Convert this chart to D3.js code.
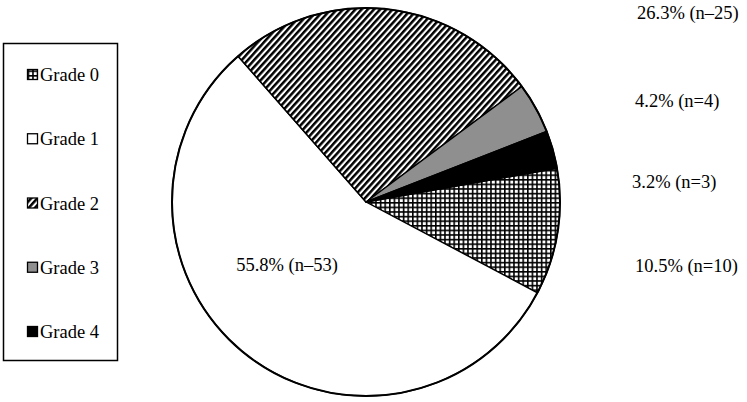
<!DOCTYPE html>
<html>
<head>
<meta charset="utf-8">
<script src="https://cdn.jsdelivr.net/npm/d3@7"></script>
<style>
  body { margin: 0; background: #fff; }
  svg { display: block; font-family: "Liberation Serif", "Times New Roman", serif; }
</style>
</head>
<body>
<svg id="chart" width="747" height="402"></svg>
<script>
// data
var grades = ["Grade 0", "Grade 1", "Grade 2", "Grade 3", "Grade 4"];
var counts = [10, 53, 25, 4, 3];
var sliceLabels = ["10.5% (n=10)", "55.8% (n\u201353)", "26.3% (n\u201325)", "4.2% (n=4)", "3.2% (n=3)"];

var svg = d3.select("#chart");
var width = 747, height = 402;

svg.append("rect").attr("width", width).attr("height", height).attr("fill", "#fff");

// patterns
var defs = svg.append("defs");

var grid = defs.append("pattern")
  .attr("id", "pat-grid")
  .attr("patternUnits", "userSpaceOnUse")
  .attr("width", 4.6).attr("height", 4.6);
grid.append("rect").attr("width", 4.6).attr("height", 4.6).attr("fill", "#fff");
grid.append("rect").attr("x", 0).attr("y", 0).attr("width", 1.6).attr("height", 4.6).attr("fill", "#000");
grid.append("rect").attr("x", 0).attr("y", 0).attr("width", 4.6).attr("height", 1.6).attr("fill", "#000");

var diag = defs.append("pattern")
  .attr("id", "pat-diag")
  .attr("patternUnits", "userSpaceOnUse")
  .attr("patternTransform", "rotate(42)")
  .attr("width", 4.6).attr("height", 10);
diag.append("rect").attr("width", 4.6).attr("height", 10).attr("fill", "#fff");
diag.append("rect").attr("width", 2.5).attr("height", 10).attr("fill", "#000");

var fills = ["url(#pat-grid)", "#fff", "url(#pat-diag)", "#8f8f8f", "#000"];

// pie
var cx = 366, cy = 202, r = 194;
var deg = Math.PI / 180;

var pie = d3.pie()
  .sort(null)
  .value(function(d){ return d; })
  .startAngle(80 * deg)
  .endAngle(440 * deg);

var arc = d3.arc().innerRadius(0).outerRadius(r);

var g = svg.append("g").attr("transform", "translate(" + cx + "," + cy + ")");

g.selectAll("path.slice")
  .data(pie(counts))
  .enter().append("path")
    .attr("class", "slice")
    .attr("d", arc)
    .attr("fill", function(d, i){ return fills[i]; })
    .attr("stroke", "#000")
    .attr("stroke-width", 1.4)
    .attr("stroke-linejoin", "round");

g.append("circle")
  .attr("r", r)
  .attr("fill", "none")
  .attr("stroke", "#000")
  .attr("stroke-width", 2);

// slice labels (Grade 1 sits inside the pie, the others in a column on the right)
var labelPos = [
  { x: 635, y: 272, anchor: "start" },
  { x: 287, y: 271, anchor: "middle" },
  { x: 637, y: 19, anchor: "start" },
  { x: 635, y: 107, anchor: "start" },
  { x: 632, y: 188, anchor: "start" }
];

svg.selectAll("text.slice-label")
  .data(sliceLabels)
  .enter().append("text")
    .attr("class", "slice-label")
    .attr("x", function(d, i){ return labelPos[i].x; })
    .attr("y", function(d, i){ return labelPos[i].y; })
    .attr("text-anchor", function(d, i){ return labelPos[i].anchor; })
    .attr("font-size", 18.5)
    .attr("fill", "#000")
    .text(function(d){ return d; });

// legend
var legend = svg.append("g");
legend.append("rect")
  .attr("x", 3.5).attr("y", 43.5)
  .attr("width", 114).attr("height", 317)
  .attr("fill", "#fff")
  .attr("stroke", "#000")
  .attr("stroke-width", 1.5);

var ly = d3.scalePoint().domain(grades).range([75, 332]);

var item = legend.selectAll("g.item")
  .data(grades)
  .enter().append("g")
    .attr("class", "item")
    .attr("transform", function(d){ return "translate(0," + ly(d) + ")"; });

item.append("rect")
  .attr("x", 27.5).attr("y", -5.5)
  .attr("width", 10).attr("height", 10)
  .attr("fill", function(d, i){ return fills[i]; })
  .attr("stroke", "#000")
  .attr("stroke-width", 1.3);

item.append("text")
  .attr("x", 40)
  .attr("y", 6)
  .attr("font-size", 18.5)
  .attr("fill", "#000")
  .text(function(d){ return d; });
</script>
</body>
</html>
